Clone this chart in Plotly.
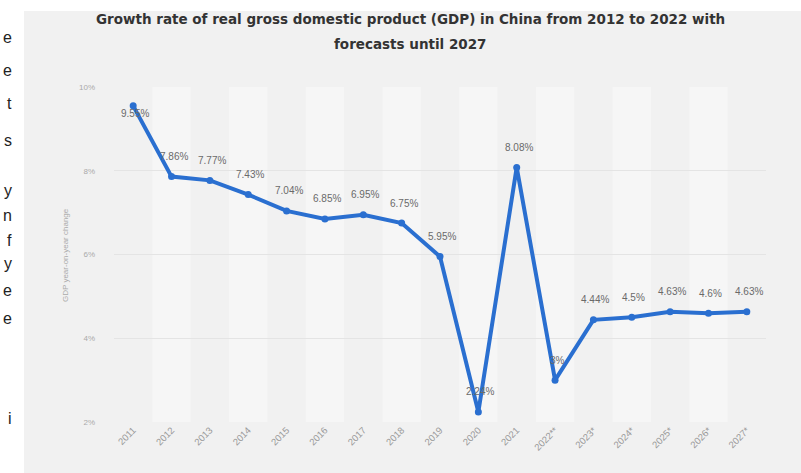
import plotly.graph_objects as go

# ---- data ----
years = ["2011", "2012", "2013", "2014", "2015", "2016", "2017", "2018", "2019",
         "2020", "2021", "2022**", "2023*", "2024*", "2025*", "2026*", "2027*"]
growth = [9.55, 7.86, 7.77, 7.43, 7.04, 6.85, 6.95, 6.75, 5.95,
          2.24, 8.08, 3.0, 4.44, 4.5, 4.63, 4.6, 4.63]
value_labels = ["9.55%", "7.86%", "7.77%", "7.43%", "7.04%", "6.85%", "6.95%", "6.75%", "5.95%",
                "2.24%", "8.08%", "3%", "4.44%", "4.5%", "4.63%", "4.6%", "4.63%"]
y_ticks = [2, 4, 6, 8, 10]
y_tick_labels = ["2%", "4%", "6%", "8%", "10%"]
title_line1 = "Growth rate of real gross domestic product (GDP) in China from 2012 to 2022 with"
title_line2 = "forecasts until 2027"
y_title = "GDP year-on-year change"

# ---- layout geometry (pixels) ----
W, H = 801, 473
ML, MR, MT, MB = 114, 35, 87, 51
PW, PH = W - ML - MR, H - MT - MB


def px(x):
    return (x - ML) / PW


def py(y):
    return (H - MB - y) / PH


xs = list(range(len(years)))

fig = go.Figure()
fig.add_trace(go.Scatter(
    x=xs, y=growth,
    mode="lines+markers",
    line=dict(color="#2a6fd0", width=4),
    marker=dict(color="#2a6fd0", size=7),
    cliponaxis=False,
    hoverinfo="skip",
    showlegend=False,
))

shapes = []
# gray background panel
shapes.append(dict(type="rect", xref="paper", yref="paper",
                   x0=px(24), x1=px(W + 2), y0=py(H + 2), y1=py(11),
                   fillcolor="#f1f1f1", line=dict(width=0), layer="below"))
# alternating column bands
for i in xs:
    if i % 2 == 1:
        shapes.append(dict(type="rect", xref="x", yref="y",
                           x0=i - 0.5, x1=i + 0.5, y0=2, y1=10,
                           fillcolor="#f6f6f6", line=dict(width=0), layer="below"))

title_font = dict(family="DejaVu Sans", size=13.5, color="#333333")
annotations = [
    dict(text="<b>" + title_line1 + "</b>", xref="paper", yref="paper",
         x=px(410), y=py(19), xanchor="center", yanchor="middle", showarrow=False,
         font=title_font),
    dict(text="<b>" + title_line2 + "</b>", xref="paper", yref="paper",
         x=px(410), y=py(44), xanchor="center", yanchor="middle", showarrow=False,
         font=title_font),
    dict(text=y_title, xref="paper", yref="paper", x=px(65), y=py(255),
         xanchor="center", yanchor="middle", textangle=-90, showarrow=False,
         font=dict(family="Liberation Sans, Arial", size=8, color="#aaaaaa")),
]

# data labels
label_font = dict(family="Liberation Sans, Arial", size=10, color="#6a6a6a")
for i, (v, t) in enumerate(zip(growth, value_labels)):
    annotations.append(dict(text=t, x=i, y=v, xref="x", yref="y", showarrow=False,
                            xanchor="center", yanchor="middle",
                            xshift=2, yshift=(-8 if i == 0 else 20), font=label_font))

# fragments of neighbouring page text at the left edge
frag = [("e", 38), ("e", 70), ("t", 103), ("s", 140), ("y", 190), ("n", 215),
        ("f", 240), ("y", 263), ("e", 290), ("e", 318), ("i", 418)]
for ch, yy in frag:
    annotations.append(dict(text=ch, xref="paper", yref="paper", x=px(14), y=py(yy),
                            xanchor="right", yanchor="middle", showarrow=False,
                            font=dict(family="Liberation Sans, Arial", size=16, color="#222222")))

fig.update_layout(
    width=W, height=H,
    margin=dict(l=ML, r=MR, t=MT, b=MB),
    paper_bgcolor="white", plot_bgcolor="rgba(0,0,0,0)",
    shapes=shapes, annotations=annotations,
    xaxis=dict(range=[-0.5, len(years) - 0.5], tickmode="array",
               tickvals=xs, ticktext=years, tickangle=-45,
               showgrid=False, zeroline=False, showline=False, ticks="",
               tickfont=dict(family="Liberation Sans, Arial", size=9.5, color="#999999")),
    yaxis=dict(range=[2, 10], tickmode="array", tickvals=y_ticks, ticktext=y_tick_labels,
               showgrid=True, gridcolor="#e4e4e4", gridwidth=1, zeroline=False,
               showline=False, ticks="", ticklabelstandoff=18,
               tickfont=dict(family="Liberation Sans, Arial", size=8, color="#aaaaaa")),
)

fig.write_html("out.html")
